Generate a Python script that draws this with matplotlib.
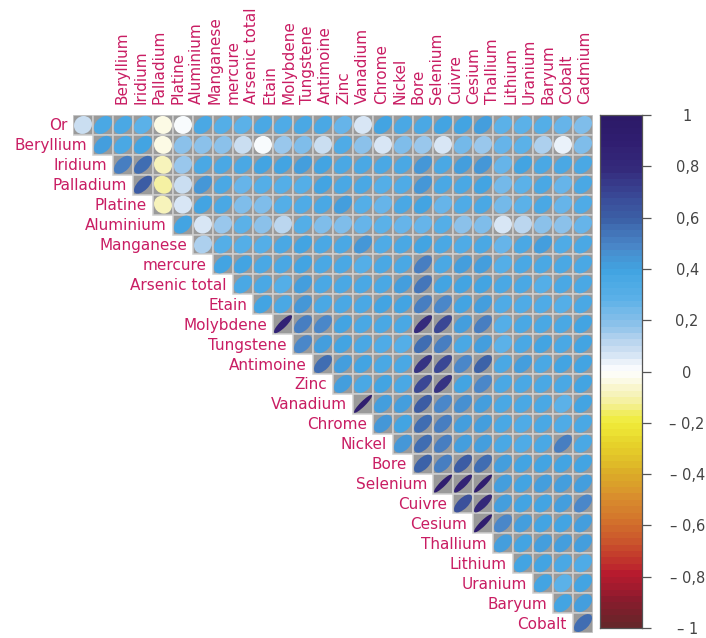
import numpy as np
import matplotlib
matplotlib.use("Agg")
import matplotlib.pyplot as plt
from matplotlib.patches import Ellipse, Rectangle
from matplotlib.colors import LinearSegmentedColormap, ListedColormap, Normalize

row_labels = ["Or", "Beryllium", "Iridium", "Palladium", "Platine", "Aluminium",
              "Manganese", "mercure", "Arsenic total", "Etain", "Molybdene",
              "Tungstene", "Antimoine", "Zinc", "Vanadium", "Chrome", "Nickel",
              "Bore", "Selenium", "Cuivre", "Cesium", "Thallium", "Lithium",
              "Uranium", "Baryum", "Cobalt"]
col_labels = ["Beryllium", "Iridium", "Palladium", "Platine", "Aluminium",
              "Manganese", "mercure", "Arsenic total", "Etain", "Molybdene",
              "Tungstene", "Antimoine", "Zinc", "Vanadium", "Chrome", "Nickel",
              "Bore", "Selenium", "Cuivre", "Cesium", "Thallium", "Lithium",
              "Uranium", "Baryum", "Cobalt", "Cadmium"]

# correlation values, row i starts at column i (upper triangle)
r_or = [0.08, 0.35, 0.35, 0.28, -0.03, 0.02, 0.35, 0.30, 0.28, 0.35, 0.33, 0.35, 0.35,
        0.25, 0.07, 0.38, 0.36, 0.37, 0.38, 0.38, 0.40, 0.28, 0.28, 0.30, 0.26, 0.22]
r_beryllium = [0.40, 0.35, 0.38, -0.05, 0.18, 0.18, 0.18, 0.08, 0.02, 0.15, 0.20, 0.08,
               0.33, 0.18, 0.06, 0.22, 0.15, 0.07, 0.24, 0.15, 0.25, 0.28, 0.13, 0.04, 0.22]
r_iridium = [0.50, 0.55, -0.08, 0.15, 0.36, 0.36, 0.35, 0.38, 0.38, 0.40, 0.38, 0.35,
             0.36, 0.36, 0.35, 0.43, 0.37, 0.40, 0.43, 0.27, 0.38, 0.36, 0.35, 0.36]
r_palladium = [0.62, -0.12, 0.08, 0.43, 0.35, 0.27, 0.30, 0.32, 0.32, 0.38, 0.36, 0.36,
               0.30, 0.33, 0.43, 0.36, 0.37, 0.38, 0.23, 0.28, 0.36, 0.27, 0.35]
r_platine = [-0.10, 0.05, 0.38, 0.35, 0.20, 0.22, 0.30, 0.33, 0.35, 0.40, 0.30, 0.25,
             0.36, 0.38, 0.25, 0.33, 0.37, 0.23, 0.28, 0.36, 0.27, 0.33]
r_aluminium = [0.38, 0.05, 0.17, 0.28, 0.18, 0.12, 0.30, 0.22, 0.22, 0.25, 0.28, 0.25,
               0.25, 0.32, 0.18, 0.20, 0.05, 0.10, 0.18, 0.18, 0.25]
r_manganese = [0.13, 0.30, 0.30, 0.32, 0.35, 0.38, 0.36, 0.36, 0.43, 0.33, 0.35, 0.38,
               0.37, 0.33, 0.35, 0.25, 0.36, 0.40, 0.33, 0.36]
r_mercure = [0.38, 0.38, 0.36, 0.35, 0.38, 0.36, 0.36, 0.30, 0.35, 0.37, 0.52, 0.35,
             0.40, 0.40, 0.30, 0.36, 0.35, 0.35, 0.36]
r_arsenic = [0.36, 0.35, 0.32, 0.40, 0.35, 0.36, 0.35, 0.36, 0.40, 0.54, 0.38, 0.38,
             0.38, 0.35, 0.36, 0.30, 0.35, 0.36]
r_etain = [0.38, 0.36, 0.43, 0.36, 0.36, 0.35, 0.38, 0.38, 0.52, 0.48, 0.38, 0.42,
           0.33, 0.33, 0.34, 0.32, 0.36]
r_molybdene = [0.85, 0.50, 0.48, 0.38, 0.36, 0.36, 0.36, 0.78, 0.68, 0.40, 0.52, 0.30,
               0.35, 0.36, 0.36, 0.38]
r_tungstene = [0.48, 0.40, 0.38, 0.36, 0.33, 0.32, 0.55, 0.52, 0.36, 0.40, 0.28, 0.36,
               0.38, 0.36, 0.38]
r_antimoine = [0.55, 0.42, 0.38, 0.35, 0.36, 0.75, 0.68, 0.48, 0.58, 0.36, 0.42, 0.36,
               0.38, 0.38]
r_zinc = [0.42, 0.35, 0.38, 0.36, 0.68, 0.75, 0.38, 0.48, 0.36, 0.36, 0.36, 0.36, 0.38]
r_vanadium = [0.92, 0.40, 0.42, 0.60, 0.48, 0.45, 0.42, 0.36, 0.36, 0.36, 0.28, 0.38]
r_chrome = [0.43, 0.38, 0.55, 0.50, 0.40, 0.42, 0.36, 0.33, 0.36, 0.33, 0.36]
r_nickel = [0.43, 0.55, 0.52, 0.40, 0.40, 0.36, 0.33, 0.36, 0.52, 0.36]
r_bore = [0.58, 0.52, 0.60, 0.55, 0.40, 0.38, 0.38, 0.38, 0.38]
r_selenium = [0.90, 0.85, 0.90, 0.40, 0.38, 0.40, 0.40, 0.42]
r_cuivre = [0.66, 0.80, 0.40, 0.38, 0.38, 0.42, 0.48]
r_cesium = [0.90, 0.48, 0.40, 0.38, 0.38, 0.42]
r_thallium = [0.40, 0.38, 0.40, 0.42, 0.40]
r_lithium = [0.38, 0.38, 0.35, 0.33]
r_uranium = [0.38, 0.28, 0.38]
r_baryum = [0.38, 0.40]
r_cobalt = [0.56]

rows = [r_or, r_beryllium, r_iridium, r_palladium, r_platine, r_aluminium,
        r_manganese, r_mercure, r_arsenic, r_etain, r_molybdene, r_tungstene,
        r_antimoine, r_zinc, r_vanadium, r_chrome, r_nickel, r_bore, r_selenium,
        r_cuivre, r_cesium, r_thallium, r_lithium, r_uranium, r_baryum, r_cobalt]

cbar_ticks = [1, 0.8, 0.6, 0.4, 0.2, 0, -0.2, -0.4, -0.6, -0.8, -1]
cbar_ticklabels = ["1", "0,8", "0,6", "0,4", "0,2", "0",
                   "\u2013 0,2", "\u2013 0,4", "\u2013 0,6", "\u2013 0,8", "\u2013 1"]

stops = [(-1.0, "#67262a"), (-0.9, "#8e1b2e"), (-0.8, "#b91c2e"), (-0.7, "#c84a2c"),
         (-0.6, "#d2702c"), (-0.5, "#d98e2e"), (-0.4, "#dcae28"), (-0.3, "#e6d02a"),
         (-0.2, "#f0ec3a"), (-0.1, "#f6f2b4"), (0.0, "#ffffff"), (0.1, "#c4daf0"),
         (0.2, "#86bfea"), (0.3, "#58b0e8"), (0.4, "#42a4e2"), (0.5, "#4a86c8"),
         (0.6, "#3c62a8"), (0.7, "#3a4896"), (0.8, "#352b7c"), (0.9, "#311f72"),
         (1.0, "#2d1a68")]
base = LinearSegmentedColormap.from_list(
    "corr", [((v + 1) / 2, c) for v, c in stops], N=256)
cmap = ListedColormap(base(np.linspace(0, 1, 80)))
norm = Normalize(-1, 1)

W, H = 706, 638
fig = plt.figure(figsize=(W / 100, H / 100), dpi=100)
ax = fig.add_axes([73 / W, (H - 633) / H, 520 / W, 518 / H])
n = len(rows)
ax.set_xlim(0, n)
ax.set_ylim(n, 0)
ax.axis("off")

s = 0.45
label_color = "#c91d63"
for i, vals in enumerate(rows):
    for k, r in enumerate(vals):
        j = i + k
        ax.add_patch(Rectangle((j, i), 1, 1, facecolor="#9a9a9a",
                               edgecolor="#cfcfcf", linewidth=1.1, zorder=1))
        ax.add_patch(Ellipse((j + 0.5, i + 0.5), width=2 * s * np.sqrt(1 + r),
                             height=2 * s * np.sqrt(1 - r), angle=-45,
                             facecolor=cmap(norm(r)), edgecolor="none", zorder=2))
    ax.text(i - 0.3, i + 0.55, row_labels[i], ha="right", va="center",
            fontsize=11, color=label_color)

trans = matplotlib.transforms.blended_transform_factory(ax.transData, ax.transAxes)
for k, lab in enumerate(col_labels):
    px = 122 + 18.52 * k
    xd = (px - 73) / 20.0
    ax.text(xd, 1 + 11 / 518, lab, rotation=90, ha="center", va="bottom",
            fontsize=11, color=label_color, transform=trans)

cax = fig.add_axes([600 / W, (H - 628) / H, 42 / W, 513 / H])
grad = np.linspace(1, -1, 400).reshape(-1, 1)
cax.imshow(grad, cmap=cmap, norm=norm, aspect="auto", extent=[0, 1, -1, 1],
           interpolation="nearest")
cax.set_xlim(0, 1)
cax.set_ylim(-1, 1)
cax.set_xticks([])
cax.yaxis.tick_right()
cax.set_yticks(cbar_ticks)
cax.set_yticklabels(cbar_ticklabels)
cax.tick_params(axis="y", length=6.5, width=0.9, color="#555555", pad=26,
                labelsize=10.5, labelcolor="#444444")
for lab in cax.get_yticklabels():
    lab.set_horizontalalignment("center")
for sp in cax.spines.values():
    sp.set_color("#555555")
    sp.set_linewidth(0.9)

fig.savefig("out.png", dpi=100)
